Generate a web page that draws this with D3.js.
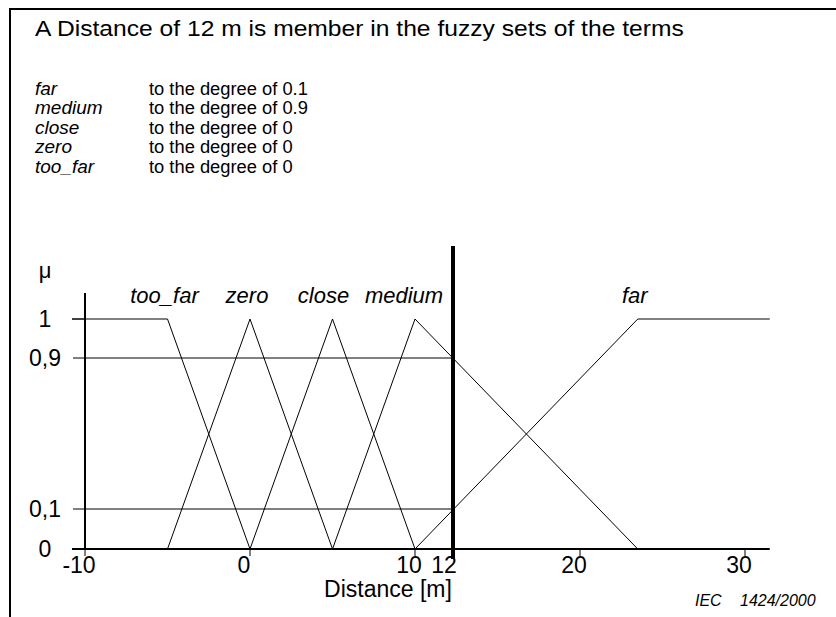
<!DOCTYPE html>
<html>
<head>
<meta charset="utf-8">
<script src="https://cdn.jsdelivr.net/npm/d3@7"></script>
<style>
  body { margin: 0; background: #fff; }
  text { font-family: "Liberation Sans", Arial, sans-serif; fill: #000; }
</style>
</head>
<body>
<div id="chart-area"></div>
<script>
// membership functions of the linguistic terms (distance in m, degree)
let terms = ["too_far", "zero", "close", "medium", "far"];
let tooFarPts = [[-10, 1], [-5, 1], [0, 0]];
let zeroPts = [[-5, 0], [0, 1], [5, 0]];
let closePts = [[0, 0], [5, 1], [10, 0]];
let mediumPts = [[5, 0], [10, 1], [23.5, 0]];
let farPts = [[10, 0], [23.5, 1], [31.5, 1]];
let degrees = ["0.1", "0.9", "0", "0", "0"];      // listed far, medium, close, zero, too_far
let listOrder = ["far", "medium", "close", "zero", "too_far"];
let xTicks = [-10, 0, 10, 12, 20, 30];
let yTicks = [0, 0.1, 0.9, 1];
let yTickLabels = ["0", "0,1", "0,9", "1"];
let crisp = 12;

let series = [tooFarPts, zeroPts, closePts, mediumPts, farPts];

let svg = d3.select('#chart-area')
            .append('svg')
            .attr('width', 836)
            .attr('height', 617);

// frame (open to the right and bottom, as in the original page crop)
svg.append("line").attr("x1", 10).attr("x2", 10).attr("y1", 9).attr("y2", 617)
   .attr("stroke", "#000").attr("stroke-width", 2);
svg.append("line").attr("x1", 9).attr("x2", 836).attr("y1", 9).attr("y2", 9)
   .attr("stroke", "#000").attr("stroke-width", 2);

// header text, a little wider than plain Arial in the original
svg.append("text").attr("x", 35).attr("y", 36).attr("font-size", 22)
   .attr("transform", "translate(35,0) scale(1.12,1) translate(-35,0)")
   .text("A Distance of 12 m is member in the fuzzy sets of the terms");

let rows = svg.selectAll(".row")
              .data(listOrder)
              .enter()
              .append("g")
              .attr("class", "row")
              .attr("transform", function(d, i){ return "translate(0," + (95 + i * 19.4) + ")"; });
rows.append("text").attr("x", 35).attr("font-size", 19).attr("font-style", "italic")
    .text(function(d){ return d; });
rows.append("text").attr("x", 149).attr("font-size", 19)
    .attr("transform", "translate(149,0) scale(0.965,1) translate(-149,0)")
    .text(function(d, i){ return "to the degree of " + degrees[i]; });

// the drawing is schematic, so both scales are piecewise
let x = d3.scaleLinear()
          .domain([-10, 10, 12, 20, 30])
          .range([85, 415, 453, 580, 745]);
let y = d3.scaleLinear()
          .domain([0, 0.1, 0.9, 1])
          .range([549, 509, 358, 319]);

// helper lines at 0.1 and 0.9
svg.selectAll(".guide")
   .data([0.1, 0.9])
   .enter()
   .append("line")
   .attr("x1", x(-10) - 12).attr("x2", x(crisp))
   .attr("y1", function(d){ return y(d); })
   .attr("y2", function(d){ return y(d); })
   .attr("stroke", "#000").attr("stroke-width", 1);

// y axis
svg.append("line").attr("x1", x(-10)).attr("x2", x(-10))
   .attr("y1", y(1) - 26).attr("y2", y(0))
   .attr("stroke", "#000").attr("stroke-width", 2);
svg.selectAll(".ytick")
   .data([0, 1])
   .enter()
   .append("line")
   .attr("x1", x(-10) - 13).attr("x2", x(-10))
   .attr("y1", function(d){ return y(d); })
   .attr("y2", function(d){ return y(d); })
   .attr("stroke", "#000").attr("stroke-width", 1.5);
svg.selectAll(".ylab")
   .data(yTicks)
   .enter()
   .append("text")
   .attr("x", 45)
   .attr("y", function(d){ return y(d) + 8; })
   .attr("text-anchor", "middle")
   .attr("font-size", 23)
   .text(function(d, i){ return yTickLabels[i]; });
svg.append("text").attr("x", 45).attr("y", y(1) - 41).attr("text-anchor", "middle")
   .attr("font-size", 22).text("μ");

// x axis
svg.append("line").attr("x1", x(-10) - 13).attr("x2", x(31.5))
   .attr("y1", y(0)).attr("y2", y(0))
   .attr("stroke", "#000").attr("stroke-width", 2);
svg.selectAll(".xtick")
   .data(xTicks.filter(function(d){ return d != crisp; }))
   .enter()
   .append("line")
   .attr("x1", function(d){ return x(d); })
   .attr("x2", function(d){ return x(d); })
   .attr("y1", y(0)).attr("y2", y(0) + 7)
   .attr("stroke", "#000").attr("stroke-width", 1);
svg.selectAll(".xlab")
   .data(xTicks)
   .enter()
   .append("text")
   .attr("x", function(d){ return x(d); })
   .attr("dx", function(d){ return d == crisp ? -9 : -6; })
   .attr("y", y(0) + 24)
   .attr("text-anchor", "middle")
   .attr("font-size", 23)
   .text(function(d){ return d; });
svg.append("text").attr("x", 388).attr("y", 597).attr("text-anchor", "middle")
   .attr("font-size", 23).text("Distance [m]");

// membership functions
let line = d3.line()
             .x(function(d){ return x(d[0]); })
             .y(function(d){ return y(d[1]); });
svg.selectAll(".mf")
   .data(series)
   .enter()
   .append("path")
   .attr("d", line)
   .attr("fill", "none")
   .attr("stroke", "#000")
   .attr("stroke-width", 1);

// term labels above the first point where each set reaches 1
let labelShift = {too_far: -3, zero: -3, close: -9, medium: -11, far: -3};
svg.selectAll(".term")
   .data(series)
   .enter()
   .append("text")
   .attr("x", function(d){
       let top = d.find(function(p){ return p[1] == 1 && p[0] > -10; });
       return x(top[0]);
   })
   .attr("dx", function(d, i){ return labelShift[terms[i]]; })
   .attr("y", 303)
   .attr("text-anchor", "middle")
   .attr("font-size", 22)
   .attr("font-style", "italic")
   .text(function(d, i){ return terms[i]; });

// crisp input value
svg.append("line").attr("x1", x(crisp)).attr("x2", x(crisp))
   .attr("y1", 246).attr("y2", y(0) + 10)
   .attr("stroke", "#000").attr("stroke-width", 4);

// figure reference
svg.append("text").attr("x", 695).attr("y", 606).attr("font-size", 16)
   .attr("font-style", "italic").text("IEC");
svg.append("text").attr("x", 740).attr("y", 606).attr("font-size", 16)
   .attr("font-style", "italic").text("1424/2000");
</script>
</body>
</html>
